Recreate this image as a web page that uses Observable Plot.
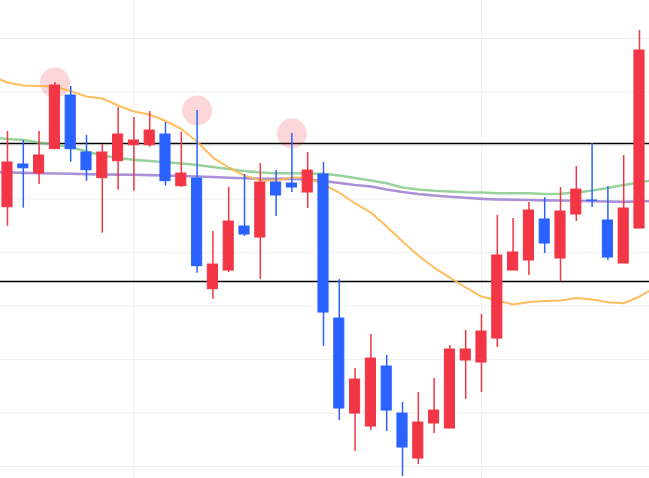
<!DOCTYPE html>
<html>
<head>
<meta charset="utf-8">
<script src="https://cdn.jsdelivr.net/npm/d3@7"></script>
<script src="https://cdn.jsdelivr.net/npm/@observablehq/plot@0.6"></script>
<style>
  html, body { margin: 0; padding: 0; background: #fff; overflow: hidden; }
  svg { display: block; }
</style>
</head>
<body>
<div id="chart"></div>
<script>
// Candle data (index 0..40)
const open  = [148.46,156.45,154.76,159.31,169.34,158.69,153.89,157.06,160.05,160.05,162.05,152.39,153.83,133.14,136.63,144.86,142.80,153.08,152.89,151.21,154.58,127.66,109.90,107.47,118.69,109.90,101.49,108.04,107.10,119.81,119.44,123.92,136.63,138.50,146.17,138.88,147.10,149.72,145.98,137.94,144.48];
const high  = [162.61,160.93,162.61,171.77,171.03,161.87,160.18,167.10,165.23,166.35,164.30,162.43,166.54,143.92,152.15,154.58,156.63,155.32,162.24,158.69,156.82,134.95,118.31,124.67,120.75,111.96,113.83,116.45,122.61,125.42,128.41,146.91,146.35,149.34,150.28,152.15,156.07,160.37,152.33,158.13,181.49];
const low   = [144.91,148.28,152.71,159.31,156.88,153.32,143.61,151.64,151.46,159.68,152.39,152.20,136.13,131.27,136.26,142.99,134.95,146.73,151.21,148.22,122.43,108.60,102.80,106.73,106.54,98.13,100.37,106.17,107.10,112.52,113.83,122.24,136.63,135.70,139.81,134.58,145.79,148.41,138.50,137.94,144.48];
const close = [156.82,155.75,158.13,171.21,159.31,155.38,158.69,162.05,160.93,162.80,153.32,154.76,137.44,137.75,145.79,143.36,153.08,150.65,152.15,155.32,128.78,110.84,116.26,120.18,110.46,103.55,108.22,110.46,121.87,121.87,125.23,139.44,140.00,147.85,141.68,147.66,151.77,149.62,139.06,148.22,177.75];

// Moving averages (index -1..41)
const maStart = -1;
const maOrange = [172.89,171.77,171.21,171.12,171.03,170.15,169.16,168.78,167.47,166.35,165.79,164.58,163.08,160.75,157.75,155.89,154.39,153.46,153.46,154.02,154.02,152.71,151.21,149.16,147.47,144.86,142.05,139.44,137.19,135.32,133.46,131.77,131.03,130.28,130.75,130.93,131.03,131.49,131.21,130.71,130.52,131.77,133.46];
const maGreen  = [161.49,161.21,161.03,160.56,160.18,159.72,158.88,158.13,157.66,157.32,157.10,156.88,156.63,156.35,155.98,155.61,155.23,154.95,154.82,154.82,154.76,154.71,154.39,153.92,153.46,152.95,152.15,151.77,151.53,151.40,151.27,151.21,151.08,151.08,151.08,150.93,150.97,151.21,151.59,152.05,152.61,153.08,153.64];
const maPurple = [155.04,154.99,154.89,154.80,154.76,154.71,154.65,154.58,154.56,154.52,154.46,154.39,154.30,154.20,154.11,153.98,153.89,153.79,153.77,153.77,153.64,153.36,152.99,152.61,152.33,151.77,151.31,150.93,150.65,150.41,150.22,150.03,149.90,149.87,149.81,149.75,149.72,149.66,149.59,149.53,149.47,149.57,149.59];

// Levels, marked highs, grid ticks
const levels = [160.37, 134.58];
const markedHighs = [3, 12, 18];
const yTicks = [100, 110, 120, 130, 140, 150, 160, 170, 180];
const xGridIdx = [8, 30];

const UP = "#f23645", DOWN = "#2962ff";

const candles = open.map((o, i) => ({
  i, open: o, high: high[i], low: low[i], close: close[i],
  color: close[i] >= o ? UP : DOWN
}));
const ma = (arr) => arr.map((v, k) => ({ i: k + maStart, v }));

const W = 649, H = 478;
const chart = Plot.plot({
  width: W, height: H,
  margin: 0,
  x: { domain: [-7 / 15.8, (W - 7) / 15.8], axis: null },
  y: { domain: [97.76, 187.10], axis: null },
  marks: [
    Plot.ruleY(yTicks, { stroke: "#efefef", strokeWidth: 1 }),
    Plot.ruleX(xGridIdx, { stroke: "#efefef", strokeWidth: 1 }),
    Plot.ruleY(levels, { stroke: "#000", strokeWidth: 1.3 }),
    Plot.dot(markedHighs.map(k => candles[k]), { x: "i", y: "high", r: 15, fill: UP, fillOpacity: 0.2, stroke: "none" }),
    Plot.line(ma(maPurple), { x: "i", y: "v", stroke: "#9575cd", strokeWidth: 2.6, strokeOpacity: 0.8, curve: "linear", clip: true }),
    Plot.line(ma(maGreen), { x: "i", y: "v", stroke: "#81c784", strokeWidth: 2.6, strokeOpacity: 0.8, curve: "linear", clip: true }),
    Plot.line(ma(maOrange), { x: "i", y: "v", stroke: "#ffb74d", strokeWidth: 2, strokeOpacity: 0.9, curve: "linear", clip: true }),
    Plot.ruleX(candles, { x: "i", y1: "low", y2: "high", stroke: "color", strokeWidth: 1.5 }),
    Plot.rect(candles, {
      x1: d => d.i - 0.32, x2: d => d.i + 0.32,
      y1: "open", y2: "close",
      fill: "color", stroke: "color", strokeWidth: 1
    })
  ]
});
document.getElementById("chart").appendChild(chart);
</script>
</body>
</html>
